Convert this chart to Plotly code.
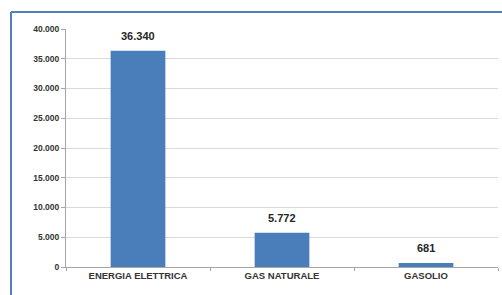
import plotly.graph_objects as go

categories = ["ENERGIA ELETTRICA", "GAS NATURALE", "GASOLIO"]
values = [36340, 5772, 681]
tick_values = [0, 5000, 10000, 15000, 20000, 25000, 30000, 35000, 40000]
tick_labels = ["0", "5.000", "10.000", "15.000", "20.000", "25.000", "30.000", "35.000", "40.000"]

labels = [f"{v:,}".replace(",", ".") for v in values]

W, H = 502, 295
ml, mr, mt, mb = 66, 4, 29, 28
pw, ph = W - ml - mr, H - mt - mb

FONT = "Liberation Sans"

fig = go.Figure(go.Bar(
    x=categories, y=values,
    marker=dict(color="#4a7ebb", line=dict(width=0)),
))

annotations = [
    dict(x=c, y=v, text=t, xref="x", yref="y", showarrow=False,
         yanchor="bottom", yshift=7,
         font=dict(size=11, color="#262626", family=FONT, weight="bold"))
    for c, v, t in zip(categories, values, labels)
]

bx0 = (11 - ml) / pw
bx1 = (W - ml) / pw
by1 = 1 + (mt - 12) / ph
by0 = -(H - (mt + ph)) / ph - 0.05

fig.update_layout(
    width=W, height=H,
    margin=dict(l=ml, r=mr, t=mt, b=mb),
    paper_bgcolor="white", plot_bgcolor="white",
    bargap=0.62, showlegend=False,
    font=dict(family=FONT, size=8, color="#404040"),
    xaxis=dict(showgrid=False, showline=True, linecolor="#a6a6a6", linewidth=1,
               ticks="outside", tickson="boundaries", ticklen=3, tickcolor="#a6a6a6",
               tickfont=dict(size=9.5, color="#333333", family=FONT, weight="bold")),
    yaxis=dict(range=[0, 40000], tickvals=tick_values, ticktext=tick_labels,
               showgrid=True, gridcolor="#d9d9d9", gridwidth=1,
               showline=True, linecolor="#a6a6a6", linewidth=1,
               ticks="outside", ticklen=4, tickcolor="#a6a6a6", zeroline=False,
               tickfont=dict(size=8.5, color="#333333", family=FONT, weight="bold")),
    annotations=annotations,
    shapes=[
        dict(type="line", xref="paper", yref="paper", x0=bx0, x1=bx1, y0=by1, y1=by1,
             line=dict(color="#4f81bd", width=2)),
        dict(type="line", xref="paper", yref="paper", x0=bx0, x1=bx0, y0=by0, y1=by1,
             line=dict(color="#4f81bd", width=2)),
    ],
)

fig.write_html("out.html",
               config={"displayModeBar": False},
               post_script="document.body.style.margin='0';document.body.style.overflow='hidden';")
